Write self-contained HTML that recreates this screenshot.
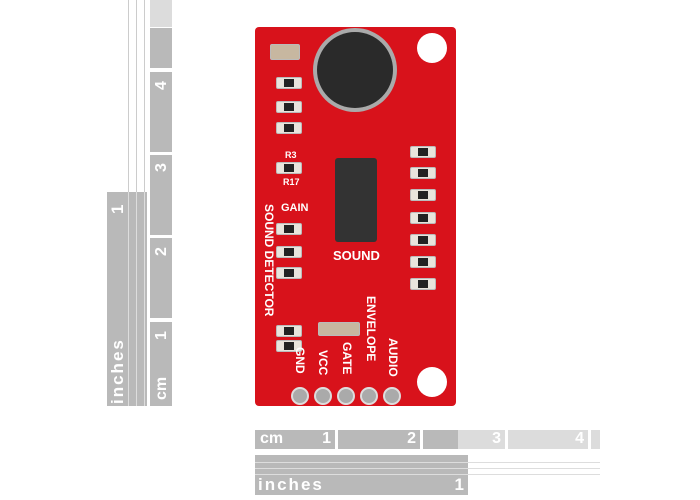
<!DOCTYPE html>
<html><head><style>
body{margin:0;width:700px;height:500px;background:#fff;position:relative;overflow:hidden;font-family:"Liberation Sans",sans-serif}
.a{position:absolute}
.g{background:#b9b9b9;color:#fff;font-weight:bold}
.l{background:#dcdcdc;color:#fff;font-weight:bold}
.r{position:absolute;transform-origin:0 0;transform:rotate(-90deg);white-space:nowrap}
.v{position:absolute;transform-origin:0 0;transform:rotate(90deg);white-space:nowrap;color:#fff;font-weight:bold;font-size:12px}
.smd{position:absolute;width:24px;height:10px;background:#e8e4dc;border-radius:2px;border:1px solid #bbb}
.smd i{position:absolute;left:7px;top:1px;width:10px;height:8px;background:#222}
.pad{position:absolute;background:#eee;border-radius:50%}
.lbl{position:absolute;color:#fff;font-weight:bold;font-size:12px}
</style></head><body>
<!-- vertical rulers -->
<div class="a" style="left:128px;top:0;width:1px;height:192px;background:#ccc"></div>
<div class="a" style="left:136px;top:0;width:1px;height:192px;background:#ccc"></div>
<div class="a" style="left:144px;top:0;width:1px;height:192px;background:#ccc"></div>
<div class="a g" style="left:107px;top:192px;width:40px;height:214px"></div>
<div class="a" style="left:128px;top:192px;width:1px;height:214px;background:#ddd"></div>
<div class="a" style="left:136px;top:192px;width:1px;height:214px;background:#ddd"></div>
<div class="a" style="left:144px;top:192px;width:1px;height:214px;background:#ddd"></div>
<div class="r" style="left:108px;top:404px;color:#fff;font-weight:bold;font-size:17px;letter-spacing:2px">inches</div>
<div class="r" style="left:108px;top:214px;color:#fff;font-weight:bold;font-size:17px">1</div>
<div class="a l" style="left:150px;top:0;width:22px;height:27px"></div>
<div class="a g" style="left:150px;top:28px;width:22px;height:40px"></div>
<div class="a g" style="left:150px;top:72px;width:22px;height:80px"></div>
<div class="a g" style="left:150px;top:155px;width:22px;height:80px"></div>
<div class="a g" style="left:150px;top:238px;width:22px;height:80px"></div>
<div class="a g" style="left:150px;top:322px;width:22px;height:84px"></div>
<div class="r" style="left:153px;top:90px;color:#fff;font-weight:bold;font-size:16px">4</div>
<div class="r" style="left:153px;top:172px;color:#fff;font-weight:bold;font-size:16px">3</div>
<div class="r" style="left:153px;top:256px;color:#fff;font-weight:bold;font-size:16px">2</div>
<div class="r" style="left:153px;top:340px;color:#fff;font-weight:bold;font-size:16px">1</div>
<div class="r" style="left:153px;top:400px;color:#fff;font-weight:bold;font-size:16px">cm</div>
<!-- horizontal rulers -->
<div class="a g" style="left:255px;top:430px;width:80px;height:19px;font-size:16px"><span style="position:absolute;left:5px;top:0">cm</span><span style="position:absolute;right:4px;top:0">1</span></div>
<div class="a g" style="left:338px;top:430px;width:82px;height:19px;font-size:16px"><span style="position:absolute;right:4px;top:0">2</span></div>
<div class="a g" style="left:423px;top:430px;width:35px;height:19px"></div>
<div class="a l" style="left:458px;top:430px;width:47px;height:19px;font-size:16px"><span style="position:absolute;right:4px;top:0">3</span></div>
<div class="a l" style="left:508px;top:430px;width:80px;height:19px;font-size:16px"><span style="position:absolute;right:4px;top:0">4</span></div>
<div class="a l" style="left:591px;top:430px;width:9px;height:19px"></div>
<div class="a g" style="left:255px;top:455px;width:213px;height:40px;font-size:17px"><span style="position:absolute;left:3px;top:20px;letter-spacing:2px">inches</span><span style="position:absolute;right:4px;top:20px">1</span></div>
<div class="a" style="left:255px;top:462px;width:345px;height:1px;background:#ddd"></div>
<div class="a" style="left:255px;top:468px;width:345px;height:1px;background:#ddd"></div>
<div class="a" style="left:255px;top:474px;width:345px;height:1px;background:#ddd"></div>
<!-- board -->
<div class="a" style="left:255px;top:27px;width:201px;height:379px;background:#d8121b;border-radius:4px"></div>
<div class="a" style="left:313px;top:28px;width:84px;height:84px;border-radius:50%;background:#aaa"></div>
<div class="a" style="left:317px;top:32px;width:76px;height:76px;border-radius:50%;background:#2a2a2a"></div>
<div class="a" style="left:417px;top:33px;width:30px;height:30px;border-radius:50%;background:#fff"></div>
<div class="a" style="left:417px;top:367px;width:30px;height:30px;border-radius:50%;background:#fff"></div>
<div class="a" style="left:335px;top:158px;width:42px;height:84px;background:#333;border-radius:3px"></div>
<div class="smd" style="left:270px;top:44px;width:28px;height:14px;background:#c7b7a0"></div>
<div class="smd" style="left:276px;top:77px"><i></i></div>
<div class="smd" style="left:276px;top:101px"><i></i></div>
<div class="smd" style="left:276px;top:122px"><i></i></div>
<div class="smd" style="left:276px;top:162px"><i></i></div>
<div class="smd" style="left:276px;top:223px"><i></i></div>
<div class="smd" style="left:276px;top:246px"><i></i></div>
<div class="smd" style="left:276px;top:267px"><i></i></div>
<div class="smd" style="left:276px;top:325px"><i></i></div>
<div class="smd" style="left:276px;top:340px"><i></i></div>
<div class="smd" style="left:410px;top:146px"><i></i></div>
<div class="smd" style="left:410px;top:167px"><i></i></div>
<div class="smd" style="left:410px;top:189px"><i></i></div>
<div class="smd" style="left:410px;top:212px"><i></i></div>
<div class="smd" style="left:410px;top:234px"><i></i></div>
<div class="smd" style="left:410px;top:256px"><i></i></div>
<div class="smd" style="left:410px;top:278px"><i></i></div>
<div class="smd" style="left:318px;top:322px;width:40px;height:12px;background:#c7b7a0"></div>
<div class="lbl" style="left:285px;top:150px;font-size:9px">R3</div>
<div class="lbl" style="left:283px;top:177px;font-size:9px">R17</div>
<div class="lbl" style="left:281px;top:202px;font-size:11px">GAIN</div>
<div class="lbl" style="left:333px;top:248px;font-size:13px">SOUND</div>
<div class="v" style="left:276px;top:204px">SOUND DETECTOR</div>
<div class="v" style="left:378px;top:296px">ENVELOPE</div>
<div class="v" style="left:400px;top:338px">AUDIO</div>
<div class="v" style="left:354px;top:342px">GATE</div>
<div class="v" style="left:330px;top:350px">VCC</div>
<div class="v" style="left:307px;top:347px">GND</div>
<div class="pad" style="left:291px;top:387px;width:14px;height:14px;border:2px solid #ddd;background:#aaa"></div>
<div class="pad" style="left:314px;top:387px;width:14px;height:14px;border:2px solid #ddd;background:#aaa"></div>
<div class="pad" style="left:337px;top:387px;width:14px;height:14px;border:2px solid #ddd;background:#aaa"></div>
<div class="pad" style="left:360px;top:387px;width:14px;height:14px;border:2px solid #ddd;background:#aaa"></div>
<div class="pad" style="left:383px;top:387px;width:14px;height:14px;border:2px solid #ddd;background:#aaa"></div>
</body></html>
